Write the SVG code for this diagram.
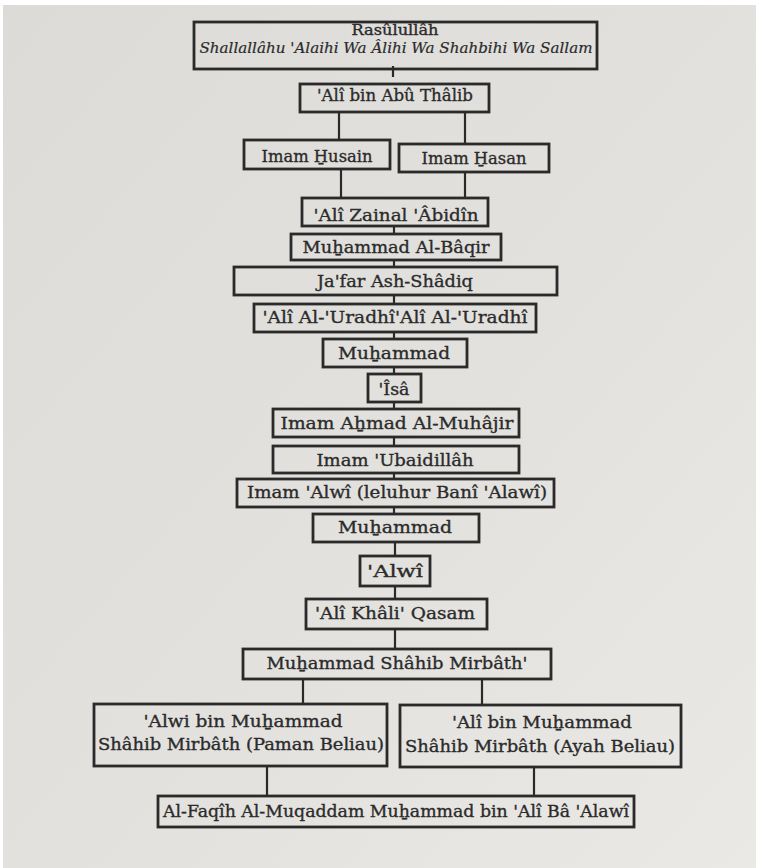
<svg xmlns="http://www.w3.org/2000/svg" width="762" height="868" viewBox="0 0 762 868">
<defs>
<linearGradient id="paper" x1="0" y1="0" x2="1" y2="1">
<stop offset="0" stop-color="#dcdbd8"/>
<stop offset="0.6" stop-color="#e3e2df"/>
<stop offset="1" stop-color="#eae9e6"/>
</linearGradient>
<style>
.box{fill:none;stroke:#2a2a2a;stroke-width:2.8}
.link{stroke:#2a2a2a;stroke-width:2.2;fill:none}
.t{font-family:"DejaVu Serif","Liberation Serif",serif;font-size:17px;fill:#2b2b2b;stroke:#2b2b2b;stroke-width:0.35;text-anchor:middle}
.s{font-size:14px}
.i{font-style:italic;font-size:14px;stroke-width:0.2}
</style>
</defs>
<rect x="0" y="0" width="762" height="868" fill="#ffffff"/>
<rect x="3" y="5" width="753" height="863" fill="url(#paper)"/>

<g id="connectors">
<line class="link" x1="393" y1="66" x2="393" y2="77"/>
<line class="link" x1="339" y1="113" x2="339" y2="140"/>
<line class="link" x1="465" y1="113" x2="465" y2="144"/>
<line class="link" x1="341" y1="170" x2="341" y2="198"/>
<line class="link" x1="465" y1="173" x2="465" y2="198"/>
<line class="link" x1="394" y1="227" x2="394" y2="234"/>
<line class="link" x1="394" y1="261" x2="394" y2="267"/>
<line class="link" x1="394" y1="296" x2="394" y2="304"/>
<line class="link" x1="394" y1="333" x2="394" y2="339"/>
<line class="link" x1="394" y1="368" x2="394" y2="374"/>
<line class="link" x1="394" y1="403" x2="394" y2="409"/>
<line class="link" x1="394" y1="438" x2="394" y2="446"/>
<line class="link" x1="394" y1="474" x2="394" y2="479"/>
<line class="link" x1="394" y1="508" x2="394" y2="514"/>
<line class="link" x1="395" y1="543" x2="395" y2="556"/>
<line class="link" x1="395" y1="587" x2="395" y2="599"/>
<line class="link" x1="395" y1="630" x2="395" y2="649"/>
<line class="link" x1="303" y1="680" x2="303" y2="704"/>
<line class="link" x1="482" y1="680" x2="482" y2="705"/>
<line class="link" x1="267" y1="767" x2="267" y2="796"/>
<line class="link" x1="534" y1="768" x2="534" y2="796"/>
</g>

<g id="n-rasulullah">
<rect class="box" x="194" y="22" width="403" height="47"/>
<text class="t s" x="395" y="35" textLength="87" lengthAdjust="spacingAndGlyphs">Rasûlullâh</text>
<text class="t i" x="396" y="53" textLength="393" lengthAdjust="spacingAndGlyphs">Shallallâhu 'Alaihi Wa Âlihi Wa Shahbihi Wa Sallam</text>
</g>
<g id="n-ali-abu-thalib">
<rect class="box" x="300" y="84" width="189" height="28"/>
<text class="t" x="395" y="101" textLength="156" lengthAdjust="spacingAndGlyphs">'Alî bin Abû Thâlib</text>
</g>
<g id="n-husain">
<rect class="box" x="244" y="140" width="146" height="29"/>
<text class="t" x="317" y="162" textLength="111" lengthAdjust="spacingAndGlyphs">Imam H̱usain</text>
</g>
<g id="n-hasan">
<rect class="box" x="399" y="144" width="150" height="28"/>
<text class="t" x="474" y="164" textLength="105" lengthAdjust="spacingAndGlyphs">Imam H̱asan</text>
</g>
<g id="n-zainal">
<rect class="box" x="302" y="198" width="186" height="28"/>
<text class="t" x="396" y="221" textLength="165" lengthAdjust="spacingAndGlyphs">'Alî Zainal 'Âbidîn</text>
</g>
<g id="n-baqir">
<rect class="box" x="291" y="234" width="210" height="26"/>
<text class="t" x="396" y="253" textLength="187" lengthAdjust="spacingAndGlyphs">Muẖammad Al-Bâqir</text>
</g>
<g id="n-jafar">
<rect class="box" x="234" y="267" width="323" height="28"/>
<text class="t" x="395" y="287" textLength="156" lengthAdjust="spacingAndGlyphs">Ja'far Ash-Shâdiq</text>
</g>
<g id="n-uradhi">
<rect class="box" x="254" y="304" width="282" height="28"/>
<text class="t" x="395" y="323" textLength="265" lengthAdjust="spacingAndGlyphs">'Alî Al-'Uradhî'Alî Al-'Uradhî</text>
</g>
<g id="n-muhammad-1">
<rect class="box" x="323" y="339" width="144" height="28"/>
<text class="t" x="394" y="359" textLength="112" lengthAdjust="spacingAndGlyphs">Muẖammad</text>
</g>
<g id="n-isa">
<rect class="box" x="368" y="374" width="53" height="28"/>
<text class="t" x="394" y="395" textLength="31" lengthAdjust="spacingAndGlyphs">'Îsâ</text>
</g>
<g id="n-ahmad">
<rect class="box" x="273" y="409" width="246" height="28"/>
<text class="t" x="397" y="429" textLength="233" lengthAdjust="spacingAndGlyphs">Imam Aẖmad Al-Muhâjir</text>
</g>
<g id="n-ubaidillah">
<rect class="box" x="273" y="446" width="246" height="27"/>
<text class="t" x="395" y="466" textLength="157" lengthAdjust="spacingAndGlyphs">Imam 'Ubaidillâh</text>
</g>
<g id="n-imam-alwi">
<rect class="box" x="237" y="479" width="317" height="28"/>
<text class="t" x="397" y="498" textLength="300" lengthAdjust="spacingAndGlyphs">Imam 'Alwî (leluhur Banî 'Alawî)</text>
</g>
<g id="n-muhammad-2">
<rect class="box" x="313" y="514" width="166" height="28"/>
<text class="t" x="395" y="533" textLength="114" lengthAdjust="spacingAndGlyphs">Muẖammad</text>
</g>
<g id="n-alwi">
<rect class="box" x="360" y="556" width="70" height="30"/>
<text class="t" x="395" y="577" textLength="56" lengthAdjust="spacingAndGlyphs">'Alwî</text>
</g>
<g id="n-khali-qasam">
<rect class="box" x="306" y="599" width="181" height="30"/>
<text class="t" x="395" y="619" textLength="160" lengthAdjust="spacingAndGlyphs">'Alî Khâli' Qasam</text>
</g>
<g id="n-mirbath">
<rect class="box" x="243" y="649" width="308" height="30"/>
<text class="t" x="397" y="669" textLength="261" lengthAdjust="spacingAndGlyphs">Muẖammad Shâhib Mirbâth'</text>
</g>
<g id="n-alwi-bin-muhammad">
<rect class="box" x="94" y="704" width="293" height="62"/>
<text class="t" x="243" y="727" textLength="199" lengthAdjust="spacingAndGlyphs">'Alwi bin Muẖammad</text>
<text class="t" x="241" y="750" textLength="286" lengthAdjust="spacingAndGlyphs">Shâhib Mirbâth (Paman Beliau)</text>
</g>
<g id="n-ali-bin-muhammad">
<rect class="box" x="400" y="705" width="281" height="62"/>
<text class="t" x="542" y="728" textLength="180" lengthAdjust="spacingAndGlyphs">'Alî bin Muẖammad</text>
<text class="t" x="540" y="752" textLength="270" lengthAdjust="spacingAndGlyphs">Shâhib Mirbâth (Ayah Beliau)</text>
</g>
<g id="n-faqih">
<rect class="box" x="158" y="796" width="476" height="31"/>
<text class="t" x="396" y="817" textLength="466" lengthAdjust="spacingAndGlyphs">Al-Faqîh Al-Muqaddam Muẖammad bin 'Alî Bâ 'Alawî</text>
</g>
</svg>
